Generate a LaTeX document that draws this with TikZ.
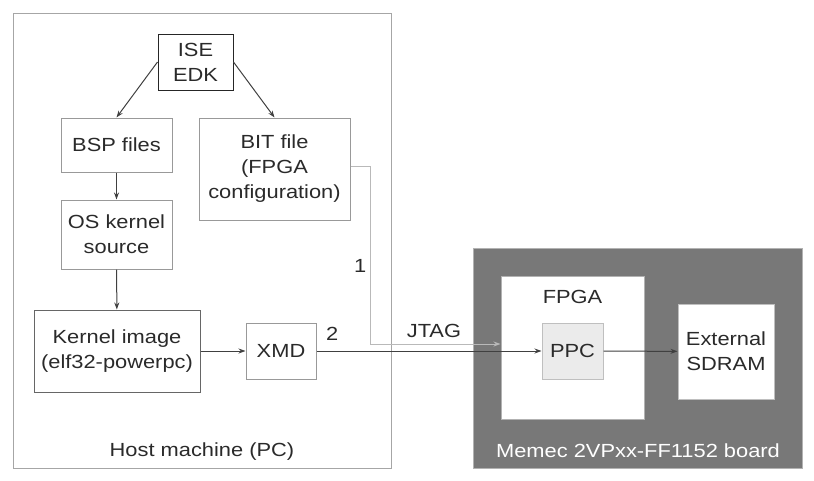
\documentclass[tikz,border=0pt]{standalone}
\usepackage{fontspec}
\setmainfont{Liberation Sans}[FakeStretch=1.15]
\usetikzlibrary{arrows.meta}
\definecolor{boardgray}{HTML}{787878}
\definecolor{ppcgray}{HTML}{EBEBEB}
\definecolor{txtgray}{HTML}{2A2A2A}
\begin{document}
\begin{tikzpicture}[x=1pt, y=-1pt, font=\fontsize{19}{25}\selectfont, text=txtgray,
	box/.style={rectangle, draw=gray!80, line width=1pt, align=center, inner sep=0pt},
	link/.style={draw=black!75, line width=1pt, -{Stealth[length=7pt, width=5pt]}},
	jtag/.style={draw=gray!55, line width=1pt, -{Stealth[length=7pt, width=5pt]}}]

		\useasboundingbox (0,0) rectangle (814,480);
		\node[box, draw=gray!70, minimum width=378pt, minimum height=455pt] (host) at (202,240.5) {};
		\node (hostlabel) at (202,452) {Host machine (PC)};
		\node[rectangle, fill=boardgray, draw=gray!60, minimum width=329pt, minimum height=220pt] (board) at (637.5,358) {};
		\node[text=white] (boardlabel) at (638,451) {Memec 2VPxx-FF1152 board};

		\node[box, draw=black!85, minimum width=75pt, minimum height=56pt] (ise) at (195.5,62) {ISE\\EDK};
		\node[box, minimum width=111pt, minimum height=54pt] (bsp) at (116.5,145) {BSP files};
		\node[box, minimum width=151pt, minimum height=102pt] (bit) at (274.5,169) {BIT file\\(FPGA\\configuration)};
		\node[box, minimum width=111pt, minimum height=69pt] (os) at (116.5,234.5) {OS kernel\\source};
		\node[box, draw=black!60, minimum width=166pt, minimum height=82pt] (kernel) at (117,351) {Kernel image\\(elf32-powerpc)};
		\node[box, minimum width=70pt, minimum height=56pt] (xmd) at (281,351) {XMD};

		\node[box, fill=white, draw=gray!60, minimum width=143pt, minimum height=143pt] (fpga) at (572.5,347.5) {};
		\node (fpgalabel) at (572.5,297) {FPGA};
		\node[box, fill=ppcgray, draw=gray!50, minimum width=61pt, minimum height=56pt] (ppc) at (572.5,351) {PPC};
		\node[box, fill=white, draw=gray!50, minimum width=96pt, minimum height=95pt] (sdram) at (726,351.5) {External\\SDRAM};

		\draw[link] (ise.west) -- (bsp.north);
		\draw[link] (ise.east) -- (bit.north);
		\draw[link] (bsp) -- (os);
		\draw[link] (os) -- (kernel);
		\draw[link] (kernel) -- (xmd);
		\draw[jtag] ([yshift=3pt]bit.east) -- (370,166) |- ([yshift=3.5pt]fpga.west)
			node[pos=0.28, left=0pt] {1} node[pos=0.745, above=2pt] {JTAG};
		\draw[link] (xmd) -- (ppc) node[pos=0.07, above=7pt] {2};
		\draw[link] (ppc) -- (sdram);
	\end{tikzpicture}
\end{document}
